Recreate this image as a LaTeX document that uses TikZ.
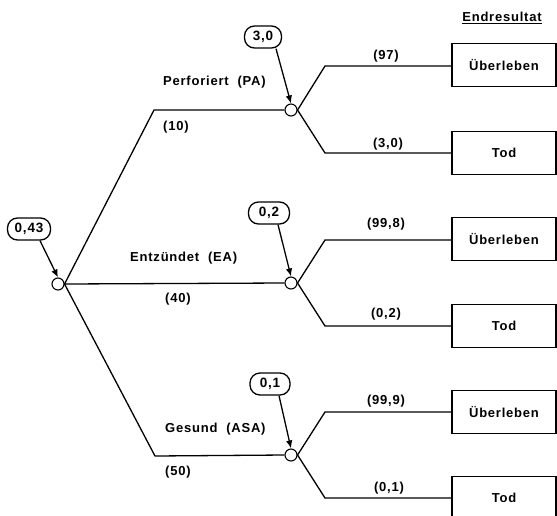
\documentclass[tikz,border=0pt]{standalone}
\usepackage{fontspec}
\setmainfont{Liberation Sans}[LetterSpace=6]
\usetikzlibrary{arrows.meta}
\begin{document}
\begin{tikzpicture}[x=1pt,y=-1pt,
  lbl/.style={font=\fontsize{13}{15}\selectfont\bfseries, inner sep=0pt},
  chance/.style={circle, draw, line width=1.1pt, minimum size=12pt, inner sep=0pt},
  bubble/.style={draw, line width=1.3pt, rounded corners=10pt, minimum height=22pt, inner sep=0pt, font=\fontsize{13.5}{15}\selectfont\bfseries},
  outcome/.style={draw, line width=1.3pt, minimum width=104pt, minimum height=43pt, inner sep=0pt, font=\fontsize{13}{15}\selectfont\bfseries},
  branch/.style={line width=1.3pt},
  pointer/.style={line width=1.3pt, -{Latex[length=8pt,width=6.5pt]}}
]
\useasboundingbox (0,0) rectangle (557,515);
\clip (0,0) rectangle (557,515);

% chance nodes
\node[chance] (r)   at (58,284) {};
\node[chance] (pa)  at (291,110) {};
\node[chance] (ea)  at (291,283) {};
\node[chance] (asa) at (291,455) {};

% bubbles
\node[bubble, minimum width=43pt] (br)   at (29,229) {0,43};
\node[bubble, minimum width=37pt] (bpa)  at (263,37) {3,0};
\node[bubble, minimum width=41pt] (bea)  at (269,213) {0,2};
\node[bubble, minimum width=40pt] (basa) at (270,384) {0,1};

\draw[pointer] ([xshift=11pt]br.south) -- (r.north);
\draw[pointer] ([xshift=13pt]bpa.south) -- (pa.north);
\draw[pointer] ([xshift=9pt]bea.south) -- (ea.north);
\draw[pointer] ([xshift=9pt]basa.south) -- (asa.north);

% outcome boxes
\node[outcome] (o1) at (504,65)  {Überleben};
\node[outcome] (o2) at (504,153) {Tod};
\node[outcome] (o3) at (504,239) {Überleben};
\node[outcome] (o4) at (504,326) {Tod};
\node[outcome] (o5) at (504,412) {Überleben};
\node[outcome] (o6) at (504,498) {Tod};

% first-level branches
\coordinate (kpa) at (154,110);
\coordinate (kasa) at (155,456);
\draw[branch] (r.east) -- (kpa) -- (pa.west);
\draw[branch] (r.east) -- (ea.west);
\draw[branch] (r.east) -- (kasa) -- (asa.west);

% second-level branches
\coordinate (k1) at (325,66);
\coordinate (k2) at (325,153);
\coordinate (k3) at (325,240);
\coordinate (k4) at (325,326);
\coordinate (k5) at (325,412);
\coordinate (k6) at (325,498);
\draw[branch] (pa.east) -- (k1) -- (o1.west |- k1);
\draw[branch] (pa.east) -- (k2) -- (o2.west |- k2);
\draw[branch] (ea.east) -- (k3) -- (o3.west |- k3);
\draw[branch] (ea.east) -- (k4) -- (o4.west |- k4);
\draw[branch] (asa.east) -- (k5) -- (o5.west |- k5);
\draw[branch] (asa.east) -- (k6) -- (o6.west |- k6);

% first-level labels
\node[lbl, anchor=west] (lpa) at (163,82) {Perforiert\ \ (PA)};
\node[lbl, anchor=west] (npa) at (163,127) {(10)};
\node[lbl, anchor=west] (lea) at (130,258) {Entzündet\ \ (EA)};
\node[lbl, anchor=west] (nea) at (165,299) {(40)};
\node[lbl, anchor=west] (lasa) at (165,429) {Gesund\ \ (ASA)};
\node[lbl, anchor=west] (nasa) at (165,472) {(50)};

% second-level labels
\node[lbl] (p1) at (386,56)  {(97)};
\node[lbl] (p2) at (388,144) {(3,0)};
\node[lbl] (p3) at (386,224) {(99,8)};
\node[lbl] (p4) at (386,314) {(0,2)};
\node[lbl] (p5) at (386,401) {(99,9)};
\node[lbl] (p6) at (389,488) {(0,1)};

% header
\node[lbl] (head) at (502,18) {\underline{Endresultat}};
\end{tikzpicture}
\end{document}
